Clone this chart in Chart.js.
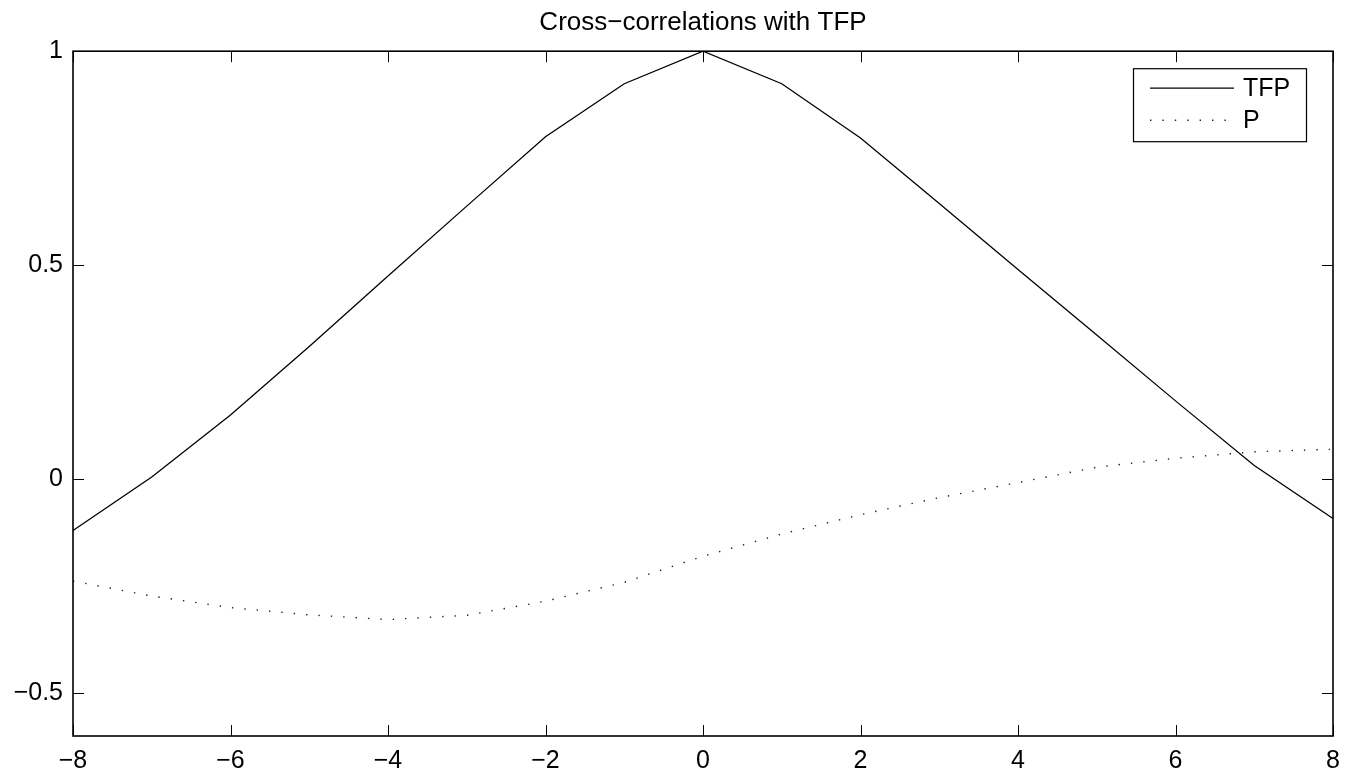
<!DOCTYPE html>
<html>
<head>
<meta charset="utf-8">
<script src="https://cdn.jsdelivr.net/npm/chart.js@4.4.1/dist/chart.umd.min.js"></script>
<style>
  html, body { margin: 0; padding: 0; background: #fff; }
  canvas { display: block; }
</style>
</head>
<body>
<canvas id="xcorrChart" width="1361" height="778"></canvas>
<script>
// lags and cross-correlations
const lags = [-8, -7, -6, -5, -4, -3, -2, -1, 0, 1, 2, 3, 4, 5, 6, 7, 8];
const tfpCorr = [-0.12, 0.005, 0.15, 0.31, 0.475, 0.638, 0.80, 0.924, 1.0, 0.924, 0.797, 0.644, 0.49, 0.337, 0.183, 0.032, -0.092];
const pCorr = [-0.238, -0.273, -0.30, -0.317, -0.328, -0.318, -0.285, -0.241, -0.18, -0.128, -0.083, -0.043, -0.008, 0.028, 0.049, 0.064, 0.07];
const xTicks = [-8, -6, -4, -2, 0, 2, 4, 6, 8];
const yTicks = [-0.5, 0, 0.5, 1];
const seriesNames = ["TFP", "P"];

const FONT = "'Liberation Sans', Arial, Helvetica, sans-serif";

function fmt(v) {
    return v < 0 ? "\u2212" + Math.abs(v) : String(v);
}

function toPoints(ys) {
    return lags.map((x, i) => ({ x: x, y: ys[i] }));
}

// MATLAB style box with inward ticks on all four sides
const boxAxes = {
    id: "boxAxes",
    afterDatasetsDraw(chart) {
        const { ctx, chartArea: a, scales } = chart;
        const len = 11;
        ctx.save();
        ctx.strokeStyle = "#000";
        ctx.lineWidth = 1;
        ctx.beginPath();
        xTicks.forEach(v => {
            const px = Math.round(scales.x.getPixelForValue(v)) + 0.5;
            ctx.moveTo(px, a.bottom); ctx.lineTo(px, a.bottom - len);
            ctx.moveTo(px, a.top); ctx.lineTo(px, a.top + len);
        });
        yTicks.forEach(v => {
            const py = Math.round(scales.y.getPixelForValue(v)) + 0.5;
            ctx.moveTo(a.left, py); ctx.lineTo(a.left + len, py);
            ctx.moveTo(a.right, py); ctx.lineTo(a.right - len, py);
        });
        ctx.stroke();
        ctx.lineWidth = 1.6;
        ctx.strokeRect(a.left, a.top, a.right - a.left, a.bottom - a.top);
        ctx.restore();
    }
};

// boxed legend in the upper right, like the original
const boxLegend = {
    id: "boxLegend",
    afterDraw(chart) {
        const { ctx, chartArea: a } = chart;
        const w = 173, h = 73;
        const x0 = a.right - 27 - w, y0 = a.top + 17;
        ctx.save();
        ctx.fillStyle = "#fff";
        ctx.fillRect(x0, y0, w, h);
        ctx.strokeStyle = "#000";
        ctx.lineWidth = 1.2;
        ctx.strokeRect(x0 + 0.5, y0 + 0.5, w, h);
        chart.data.datasets.forEach((ds, i) => {
            const yy = y0 + 20 + i * 32;
            ctx.beginPath();
            ctx.strokeStyle = ds.borderColor;
            ctx.lineWidth = ds.borderWidth;
            ctx.setLineDash(ds.borderDash || []);
            ctx.moveTo(x0 + 17, yy);
            ctx.lineTo(x0 + 101, yy);
            ctx.stroke();
            ctx.setLineDash([]);
            ctx.fillStyle = "#000";
            ctx.font = "25px " + FONT;
            ctx.textBaseline = "middle";
            ctx.fillText(ds.label, x0 + 110, yy + 1);
        });
        ctx.restore();
    }
};

const ctx = document.getElementById("xcorrChart");
new Chart(ctx, {
    type: "line",
    data: {
        datasets: [
            {
                label: seriesNames[0],
                data: toPoints(tfpCorr),
                borderColor: "#000",
                borderWidth: 1.3,
                pointRadius: 0,
                tension: 0,
            },
            {
                label: seriesNames[1],
                data: toPoints(pCorr),
                borderColor: "#222",
                borderWidth: 1.4,
                borderDash: [1.4, 11],
                pointRadius: 0,
                tension: 0,
            },
        ],
    },
    options: {
        responsive: false,
        animation: false,
        layout: { padding: { top: 0, right: 28, left: 0, bottom: 0 } },
        plugins: {
            legend: { display: false },
            tooltip: { enabled: false },
            title: {
                display: true,
                fullSize: false,
                text: "Cross\u2212correlations with TFP",
                color: "#000",
                font: { family: FONT, size: 26, weight: "normal" },
                padding: { top: 7, bottom: 13 },
            },
        },
        scales: {
            x: {
                type: "linear",
                min: -8,
                max: 8,
                afterBuildTicks: s => { s.ticks = xTicks.map(v => ({ value: v })); },
                afterFit: s => { s.height = 42; },
                grid: { display: false, drawTicks: false },
                border: { display: false },
                ticks: {
                    color: "#000",
                    padding: 10,
                    maxRotation: 0,
                    font: { family: FONT, size: 25 },
                    callback: v => fmt(v),
                },
            },
            y: {
                type: "linear",
                min: -0.6,
                max: 1,
                afterBuildTicks: s => { s.ticks = yTicks.map(v => ({ value: v })); },
                afterFit: s => { s.width = 73; },
                grid: { display: false, drawTicks: false },
                border: { display: false },
                ticks: {
                    color: "#000",
                    padding: 10,
                    font: { family: FONT, size: 25 },
                    callback: v => fmt(v),
                },
            },
        },
    },
    plugins: [boxAxes, boxLegend],
});
</script>
</body>
</html>
